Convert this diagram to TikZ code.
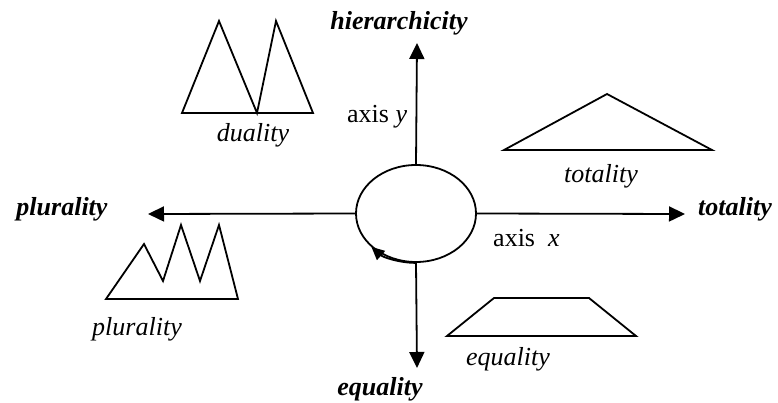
\documentclass[tikz,border=0pt]{standalone}
\usepackage{fontspec}
\setmainfont{Liberation Serif}
\usepackage{tikz}
\usetikzlibrary{arrows.meta,positioning,shapes.geometric}
\tikzset{
  fig/ring/.style={draw, ellipse, line width=1.8pt, minimum width=120pt, minimum height=97pt, inner sep=0pt},
  fig/axis/.style={line width=1.8pt, -{Triangle[length=16pt,width=15pt]}},
  fig/turn/.style={line width=1.8pt, -{Triangle[length=13pt,width=12pt]}},
  fig/form/.style={line width=1.8pt, line join=miter},
  fig/pole/.style={font=\fontsize{26}{30}\selectfont\bfseries\itshape, inner sep=0pt, anchor=base},
  fig/caption/.style={font=\fontsize{26}{30}\selectfont\itshape, inner sep=0pt, anchor=base},
  fig/axlabel/.style={font=\fontsize{26}{30}\selectfont, inner sep=0pt, anchor=base west}
}

\begin{document}
\begin{tikzpicture}[x=1pt, y=-1pt]
  \useasboundingbox (0,0) rectangle (778,403);
  % centre and axes
  \node[fig/ring] (c) at (416,213.5) {};
  \coordinate (ytop) at (417,43);
  \coordinate (ybot) at (417,368);
  \coordinate (xleft) at (148,214);
  \coordinate (xright) at (685,214);
  \draw[fig/axis] (c.north) -- (ytop);
  \draw[fig/axis] (c.south) -- (ybot);
  \draw[fig/axis] (c.west) -- (xleft);
  \draw[fig/axis] (c.east) -- (xright);
  \draw[fig/turn] (c.south) arc[start angle=-90, end angle=-138, x radius=60pt, y radius=48.5pt];
  % pole names
  \node[fig/pole] (hier) at (399,30) {hierarchicity};
  \node[fig/pole] (plur) at (62,216) {plurality};
  \node[fig/pole] (tot) at (735,216) {totality};
  \node[fig/pole] (equ) at (380,395) {equality};
  \node[fig/axlabel] (laby) at (347,123) {axis \textit{y}};
  \node[fig/axlabel] (labx) at (493,246) {axis\ \ \textit{x}};
  % forms
  \draw[fig/form] (182,113) -- (219,21) -- (257,113) -- (276,21) -- (313,113) -- cycle;
  \draw[fig/form] (504,150) -- (607,94) -- (712,150) -- cycle;
  \draw[fig/form] (106,299) -- (144,244) -- (163,281) -- (181,225) -- (200,281) -- (219,225) -- (238,299) -- cycle;
  \draw[fig/form] (447,336) -- (494,298) -- (589,298) -- (636,336) -- cycle;
  \node[fig/caption] (cdual) at (253,142) {duality};
  \node[fig/caption] (ctot) at (601,183) {totality};
  \node[fig/caption] (cplur) at (137,335) {plurality};
  \node[fig/caption] (cequ) at (508,365) {equality};
\end{tikzpicture}
\end{document}
